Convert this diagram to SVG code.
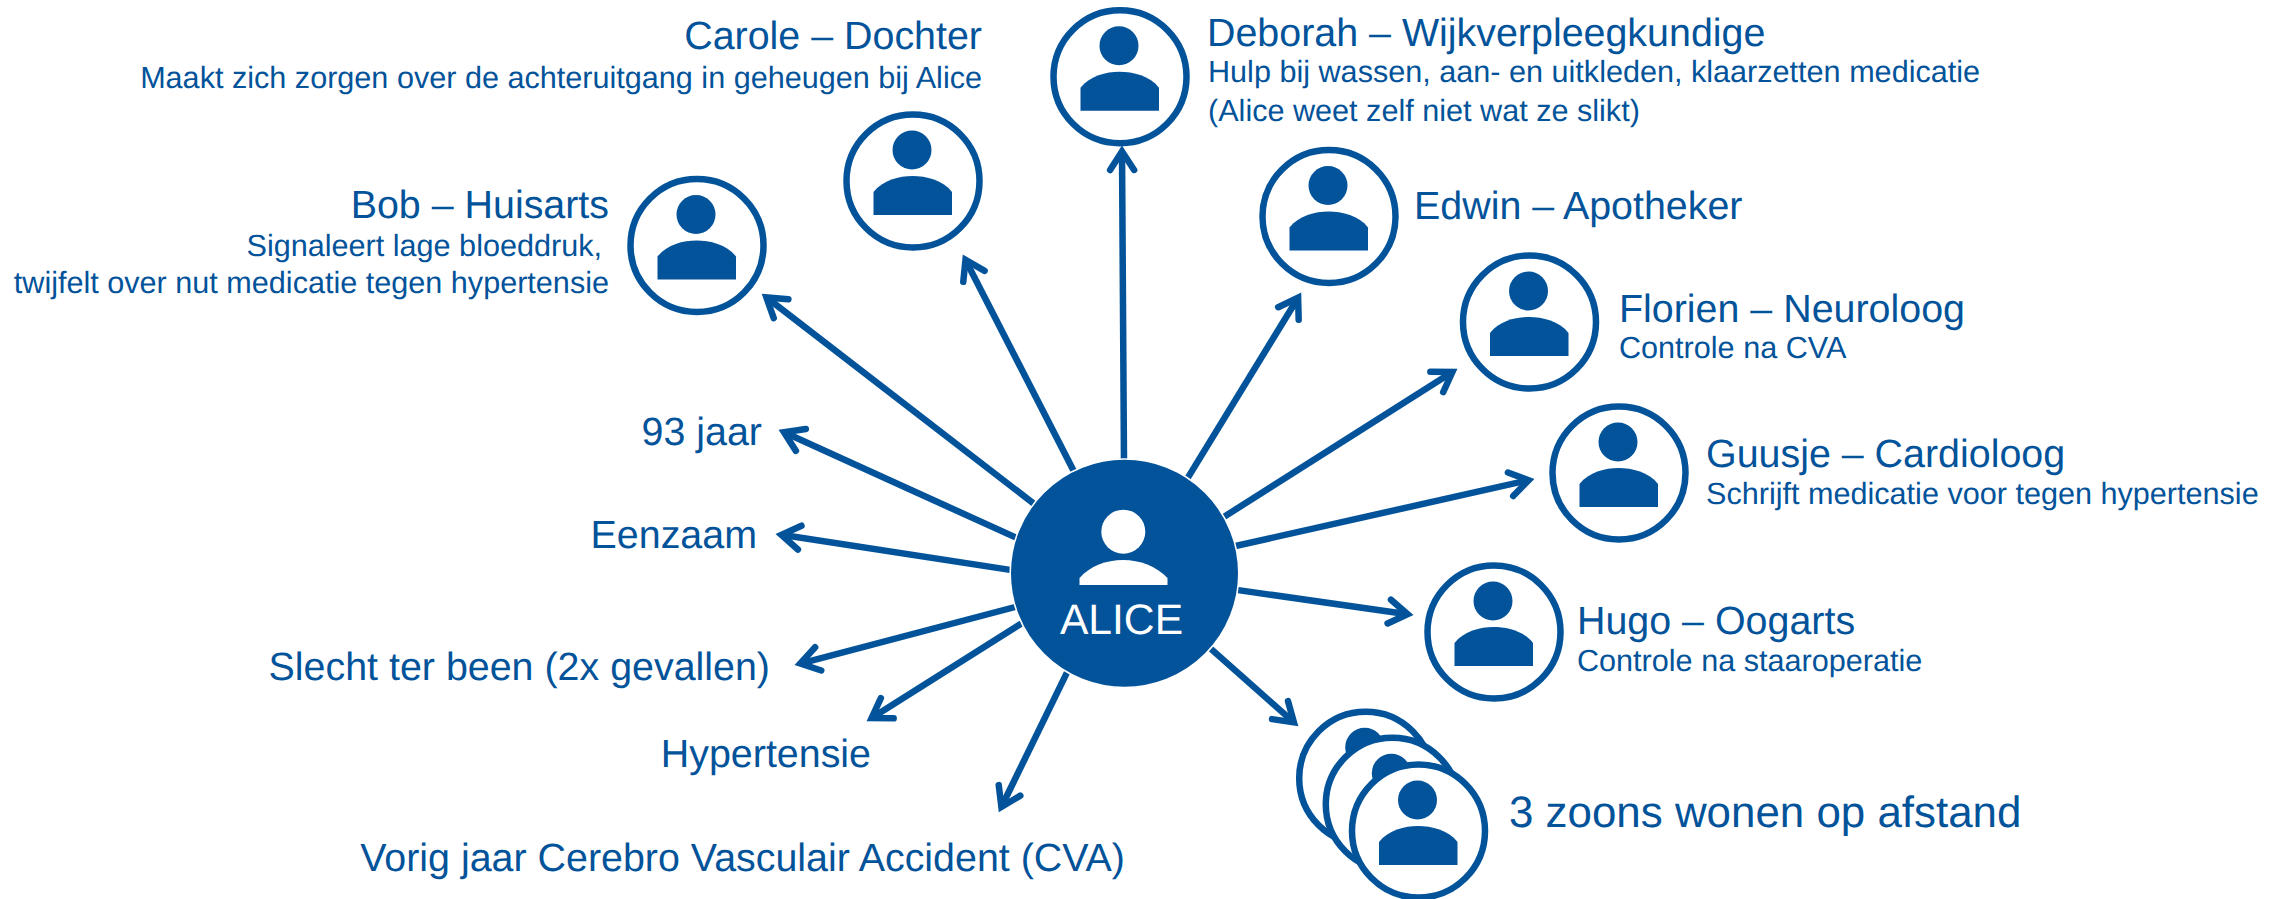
<svg xmlns="http://www.w3.org/2000/svg" width="2284" height="899" viewBox="0 0 2284 899">
<style>
text{font-family:"Liberation Sans",Arial,sans-serif;fill:#03539a;text-rendering:geometricPrecision}
.t{font-size:39.400px}.s{font-size:30.600px}.e{text-anchor:end}
.c{fill:#fff;stroke:#03539a;stroke-width:6.500}
.f{fill:#03539a}
.l{fill:none;stroke:#03539a;stroke-width:6.500;marker-end:url(#a)}
</style>
<defs>
<marker id="a" markerUnits="userSpaceOnUse" markerWidth="40" markerHeight="40" refX="24.500" refY="20" orient="auto" overflow="visible">
<path d="M6 8L24.500 20L6 32" fill="none" stroke="#03539a" stroke-width="6.500" stroke-linecap="round" stroke-linejoin="miter" stroke-miterlimit="10"/>
</marker>
<g id="p"><circle class="c" r="66.500"/><circle class="f" cx="-1" cy="-31" r="19.500"/><path class="f" d="M-39.500 34V11C-30-1-14-5-.500-5S30-1 39 11V34Z"/></g>
</defs>
<g id="connectors">
<path class="l" d="M1036 505.400L766.400 297.400"/>
<path class="l" d="M1075 473.600L965.500 259.900"/>
<path class="l" d="M1124 464L1122 151.500"/>
<path class="l" d="M1185 482.400L1298.100 297.700"/>
<path class="l" d="M1220.600 519L1452.400 372"/>
<path class="l" d="M1231 547L1528.600 480.200"/>
<path class="l" d="M1233 589.400L1407.600 614.200"/>
<path class="l" d="M1207 645.400L1293.900 722.400"/>
<path class="l" d="M1069 668.400L1001.400 807"/>
<path class="l" d="M1025.400 621L871.600 718.100"/>
<path class="l" d="M1019 606L800.300 663.600"/>
<path class="l" d="M1015 570.600L781.400 534.800"/>
<path class="l" d="M1020.600 539.700L784 432.300"/>
</g>
<g id="alice"><circle cx="1124.500" cy="573.300" r="114.300" fill="#03539a" stroke="#fff" stroke-width="1.600"/><circle fill="#fff" cx="1123.300" cy="531.700" r="22"/><path fill="#fff" d="M1079.500 585V578C1090 566 1106 560 1123 560S1156 566 1167.500 578V585Z"/><text x="1121.500" y="633.500" font-size="42.600" text-anchor="middle" style="fill:#fff">ALICE</text></g>
<g id="bob"><use href="#p" x="697" y="245.500"/><text class="t e" x="609" y="218">Bob – Huisarts</text><text class="s e" x="602" y="256">Signaleert lage bloeddruk,</text><text class="s e" x="609" y="292.500">twijfelt over nut medicatie tegen hypertensie</text></g>
<g id="carole"><use href="#p" x="913" y="181"/><text class="t e" x="982" y="49">Carole – Dochter</text><text class="s e" x="982" y="87.500">Maakt zich zorgen over de achteruitgang in geheugen bij Alice</text></g>
<g id="deborah"><use href="#p" x="1120" y="76.700"/><text class="t" x="1207" y="45.500">Deborah – Wijkverpleegkundige</text><text class="s" x="1208" y="82">Hulp bij wassen, aan- en uitkleden, klaarzetten medicatie</text><text class="s" x="1208" y="120.500">(Alice weet zelf niet wat ze slikt)</text></g>
<g id="edwin"><use href="#p" x="1329" y="216.500"/><text class="t" x="1414" y="218.500">Edwin – Apotheker</text></g>
<g id="florien"><use href="#p" x="1529.500" y="322"/><text class="t" x="1619" y="322">Florien – Neuroloog</text><text class="s" x="1619" y="358.300">Controle na CVA</text></g>
<g id="guusje"><use href="#p" x="1619" y="473"/><text class="t" x="1706" y="467">Guusje – Cardioloog</text><text class="s" x="1706" y="504">Schrijft medicatie voor tegen hypertensie</text></g>
<g id="hugo"><use href="#p" x="1494" y="632"/><text class="t" x="1577" y="633.500">Hugo – Oogarts</text><text class="s" x="1577" y="670.500">Controle na staaroperatie</text></g>
<g id="zoons"><use href="#p" x="1365.700" y="778.300"/><use href="#p" x="1392.300" y="804.300"/><use href="#p" x="1418.500" y="831"/><text x="1509" y="826.500" font-size="43.900">3 zoons wonen op afstand</text></g>
<g id="labels">
<text class="t e" x="762" y="445">93 jaar</text>
<text class="t e" x="757" y="547.700">Eenzaam</text>
<text class="t e" x="770" y="679.500">Slecht ter been (2x gevallen)</text>
<text class="t e" x="871" y="766.700">Hypertensie</text>
<text class="t e" x="1125" y="870.500">Vorig jaar Cerebro Vasculair Accident (CVA)</text>
</g>
</svg>
